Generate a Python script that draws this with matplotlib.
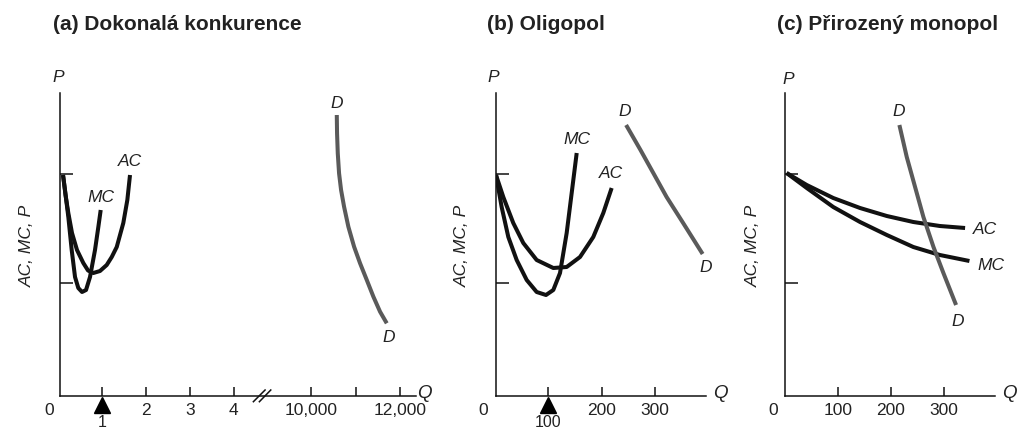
import numpy as np
import matplotlib
matplotlib.use("Agg")
import matplotlib.pyplot as plt

plt.rcParams['font.family'] = ['Liberation Sans', 'DejaVu Sans']

# ---------------- data ----------------
# Panel (a) perfect competition: Q in units (left part), demand in thousands region
a_mc_q = [0.103, 0.148, 0.224, 0.301, 0.377, 0.452, 0.537, 0.628, 0.719, 0.833, 0.909, 0.963]
a_mc_p = [2.21, 2.06, 1.79, 1.46, 1.19, 1.08, 1.04, 1.06, 1.19, 1.46, 1.69, 1.86]
a_ac_q = [0.103, 0.160, 0.224, 0.308, 0.422, 0.566, 0.674, 0.795, 0.947, 1.100, 1.215, 1.329, 1.479, 1.571, 1.632]
a_ac_p = [2.21, 2.01, 1.83, 1.63, 1.46, 1.33, 1.255, 1.23, 1.25, 1.31, 1.39, 1.49, 1.73, 1.96, 2.21]
a_d_q = [10580, 10586, 10602, 10631, 10676, 10743, 10839, 10967, 11101, 11251, 11399, 11548, 11698]
a_d_p = [2.81, 2.627, 2.427, 2.227, 2.06, 1.893, 1.693, 1.493, 1.327, 1.16, 0.993, 0.843, 0.727]
a_ticks = [1, 2, 3, 4, 10000, 11000, 12000]
a_ticklabels = ['', '2', '3', '4', '10,000', '', '12,000']
a_mark = 1

# Panel (b) oligopoly
b_mc_q = [1.9, 12.5, 25, 40.7, 59.5, 78.2, 95.7, 109.4, 122, 134.5, 143.9, 153.3]
b_mc_p = [2.21, 1.89, 1.59, 1.36, 1.16, 1.04, 1.01, 1.06, 1.23, 1.63, 2.03, 2.43]
b_ac_q = [1.9, 15.6, 34.3, 53.1, 78.2, 109.4, 134.5, 159.5, 184.4, 203.2, 218.9]
b_ac_p = [2.21, 1.99, 1.73, 1.53, 1.36, 1.28, 1.29, 1.39, 1.59, 1.83, 2.08]
b_d_q = [246, 273, 297, 322, 353, 389.6]
b_d_p = [2.71, 2.46, 2.23, 1.99, 1.73, 1.42]
b_ticks = [100, 200, 300]
b_ticklabels = ['', '200', '300']
b_mark = 100

# Panel (c) natural monopoly
c_ac_q = [3, 41, 91, 141.5, 192, 242, 292, 339.6]
c_ac_p = [2.23, 2.11, 1.98, 1.88, 1.80, 1.74, 1.70, 1.68]
c_mc_q = [3, 41, 91, 141.5, 192, 242, 292, 347.8]
c_mc_p = [2.23, 2.08, 1.89, 1.74, 1.61, 1.49, 1.41, 1.35]
c_d_q = [215.7, 229.6, 245.3, 261, 280, 298.7, 322.6]
c_d_p = [2.71, 2.39, 2.09, 1.79, 1.49, 1.23, 0.91]
c_ticks = [100, 200, 300]
c_ticklabels = ['100', '200', '300']

y_ticks = [1.13, 2.22]

titles = ['(a) Dokonalá konkurence', '(b) Oligopol', '(c) Přirozený monopol']
ylabel = 'AC, MC, P'

# ---------------- styling ----------------
W, H = 1017, 430
BLACK = '#111111'
GRAY = '#5a5a5a'
TXT = '#222222'
LW = 2.9
FS = 12.5

fig = plt.figure(figsize=(W / 100, H / 100), dpi=100)


def add_ax(left, right, bottom=396, top=93):
    return fig.add_axes([left / W, 1 - bottom / H, (right - left) / W, (bottom - top) / H])


def style(ax):
    ax.spines[['top', 'right']].set_visible(False)
    for s in ['left', 'bottom']:
        ax.spines[s].set_linewidth(1.1)
        ax.spines[s].set_color(BLACK)
    ax.set_ylim(0, 3.03)
    ax.set_yticks(y_ticks)
    ax.tick_params(axis='y', direction='in', length=9, width=1.1, labelleft=False, color=BLACK)
    ax.tick_params(axis='x', direction='in', length=6.5, width=1.1, labelsize=FS, pad=5,
                   color=BLACK, labelcolor=TXT)
    ax.patch.set_alpha(0)


def lbl(ax, x, y, s, **kw):
    d = dict(fontsize=FS, style='italic', color=TXT, ha='center', va='center', clip_on=False)
    d.update(kw)
    ax.text(x, y, s, **d)


# ---- panel (a) with broken axis ----
def fwd(q):
    q = np.asarray(q, float)
    return np.where(q <= 5, q, np.where(q < 10000, 5 + (q - 5) * 0.76 / 9995, 5.76 + (q - 10000) / 980))


def inv(p):
    p = np.asarray(p, float)
    return np.where(p <= 5, p, np.where(p < 5.76, 5 + (p - 5) * 9995 / 0.76, 10000 + (p - 5.76) * 980))


axa = add_ax(60, 416)
axa.set_xscale('function', functions=(fwd, inv))
style(axa)
axa.set_xlim(0.034, 12352)
axa.set_xticks(a_ticks)
axa.set_xticklabels(a_ticklabels)
kw_line = dict(lw=LW, solid_capstyle='butt', solid_joinstyle='round')
axa.plot(a_mc_q, a_mc_p, color=BLACK, **kw_line)
axa.plot(a_ac_q, a_ac_p, color=BLACK, **kw_line)
axa.plot(a_d_q, a_d_p, color=GRAY, **kw_line)
# break marks
axa.plot([4.448, 4.715], [-0.057, 0.06], color=BLACK, lw=1.1, clip_on=False)
axa.plot([4.585, 4.845], [-0.057, 0.06], color=BLACK, lw=1.1, clip_on=False)
axa.plot([a_mark], [-0.085], marker='^', ms=12, color='black', clip_on=False, ls='none')
lbl(axa, a_mark, -0.19, '1', style='normal', va='top', fontsize=11.5)
lbl(axa, -0.22, -0.145, '0', style='normal')
lbl(axa, 1.63, 2.35, 'AC')
lbl(axa, 0.97, 1.99, 'MC')
lbl(axa, 10588, 2.93, 'D')
lbl(axa, 11750, 0.58, 'D')
lbl(axa, -0.01, 3.18, 'P')
lbl(axa, 12550, 0.03, 'Q', fontsize=13.5)
lbl(axa, -0.71, 1.5, ylabel, rotation=90)

# ---- panel (b) ----
axb = add_ax(496, 706)
style(axb)
axb.set_xlim(1.9, 395.9)
axb.set_xticks(b_ticks)
axb.set_xticklabels(b_ticklabels)
axb.plot(b_mc_q, b_mc_p, color=BLACK, **kw_line)
axb.plot(b_ac_q, b_ac_p, color=BLACK, **kw_line)
axb.plot(b_d_q, b_d_p, color=GRAY, **kw_line)
axb.plot([b_mark], [-0.085], marker='^', ms=12, color='black', clip_on=False, ls='none')
lbl(axb, b_mark, -0.19, '100', style='normal', va='top', fontsize=11.5)
lbl(axb, -22.5, -0.145, '0', style='normal')
lbl(axb, 154, 2.56, 'MC')
lbl(axb, 218, 2.22, 'AC')
lbl(axb, 244, 2.84, 'D')
lbl(axb, 396, 1.28, 'D')
lbl(axb, -4, 3.18, 'P')
lbl(axb, 422, 0.02, 'Q', fontsize=13.5)
lbl(axb, -62, 1.5, ylabel, rotation=90)

# ---- panel (c) ----
axc = add_ax(785, 995)
style(axc)
axc.set_xlim(0, 396)
axc.set_xticks(c_ticks)
axc.set_xticklabels(c_ticklabels)
axc.plot(c_ac_q, c_ac_p, color=BLACK, **kw_line)
axc.plot(c_mc_q, c_mc_p, color=BLACK, **kw_line)
axc.plot(c_d_q, c_d_p, color=GRAY, **kw_line)
lbl(axc, -22.6, -0.145, '0', style='normal')
lbl(axc, 377, 1.66, 'AC')
lbl(axc, 389, 1.31, 'MC')
lbl(axc, 215, 2.84, 'D')
lbl(axc, 326, 0.74, 'D')
lbl(axc, 6, 3.17, 'P')
lbl(axc, 423, 0.02, 'Q', fontsize=13.5)
lbl(axc, -60, 1.5, ylabel, rotation=90)

# titles
for x0, t in zip([53, 487, 777], titles):
    fig.text(x0 / W, 1 - 25 / H, t, fontsize=15, fontweight='bold', color=TXT, ha='left', va='center')

fig.savefig('out.png', dpi=100)
